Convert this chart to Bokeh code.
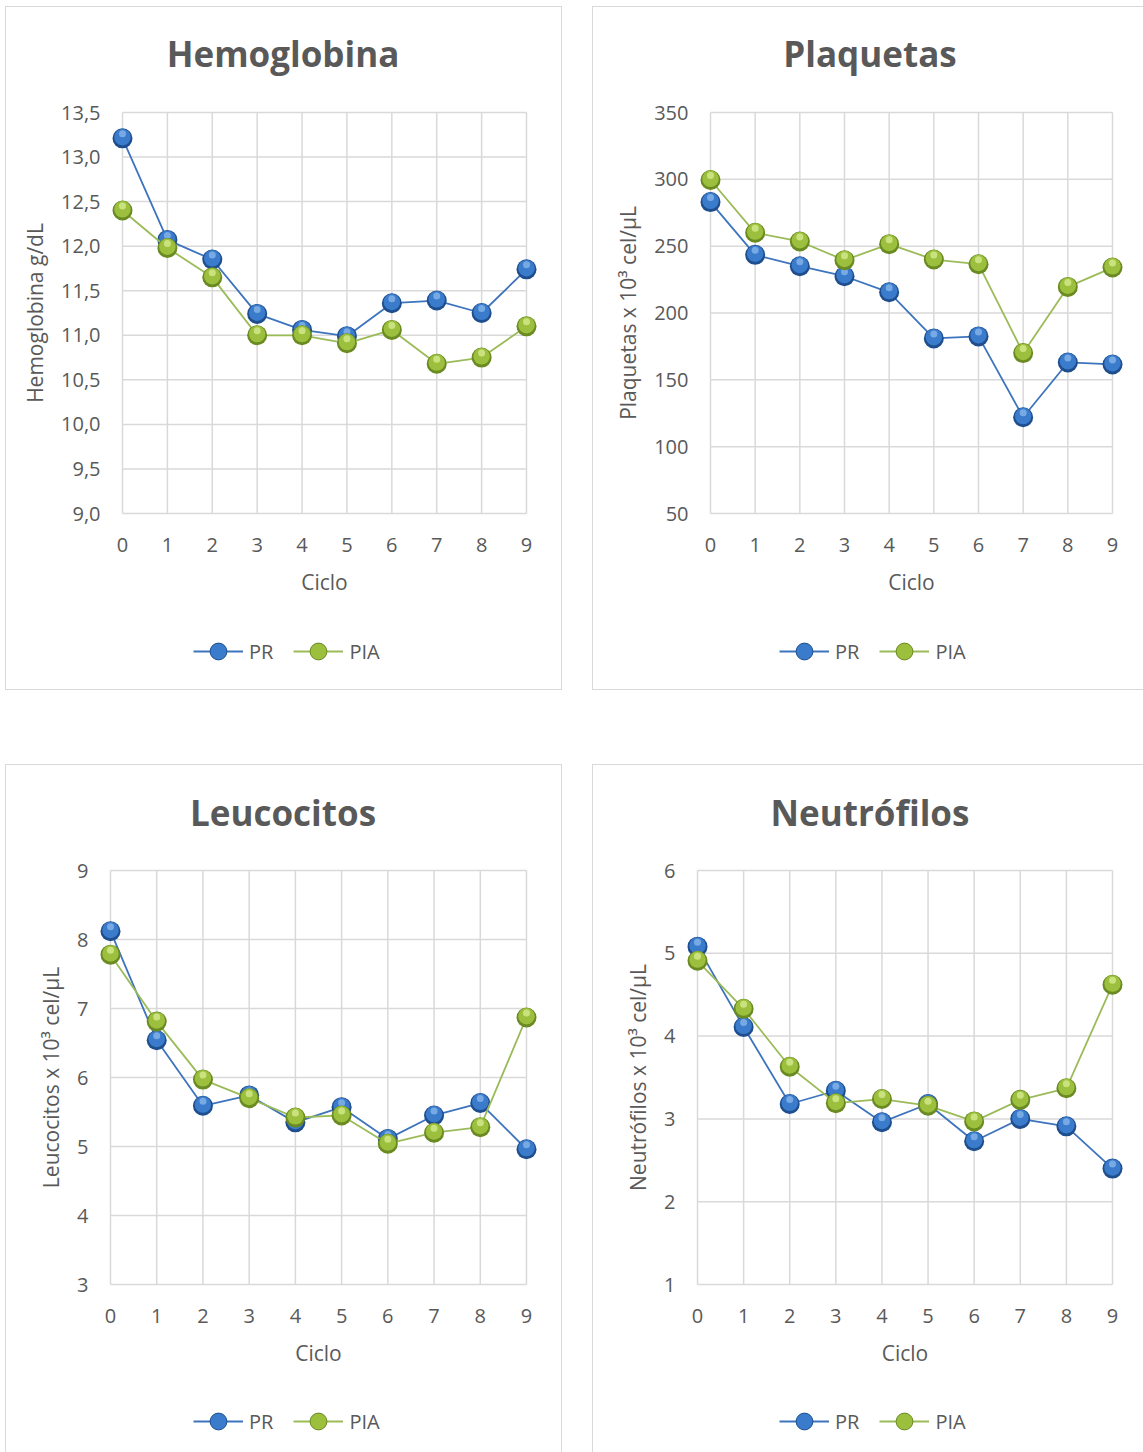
from bokeh.plotting import figure
from bokeh.models import (Range1d, FixedTicker, CustomJSTickFormatter, Div,
                          Legend, LegendItem, Spacer)
from bokeh.layouts import column, row
from bokeh.embed import file_html
from bokeh.resources import INLINE

# ---------------- data ----------------
ciclos = [0, 1, 2, 3, 4, 5, 6, 7, 8, 9]

hb_pr = [13.21, 12.07, 11.85, 11.24, 11.06, 10.99, 11.36, 11.39, 11.25, 11.74]
hb_pia = [12.40, 11.98, 11.65, 11.00, 11.00, 10.91, 11.06, 10.68, 10.75, 11.10]

plq_pr = [283, 243.5, 235, 227.5, 215.5, 181, 182.5, 122, 163, 161.5]
plq_pia = [299.5, 260, 253.5, 239.5, 251.5, 240, 236.5, 170, 219.5, 234]

leu_pr = [8.12, 6.54, 5.59, 5.74, 5.35, 5.57, 5.11, 5.45, 5.63, 4.96]
leu_pia = [7.78, 6.81, 5.97, 5.70, 5.42, 5.45, 5.04, 5.20, 5.28, 6.87]

neu_pr = [5.08, 4.11, 3.18, 3.34, 2.96, 3.18, 2.73, 3.00, 2.91, 2.40]
neu_pia = [4.91, 4.33, 3.63, 3.19, 3.24, 3.16, 2.97, 3.23, 3.37, 4.62]

hb_ticks = [9.0, 9.5, 10.0, 10.5, 11.0, 11.5, 12.0, 12.5, 13.0, 13.5]
plq_ticks = [50, 100, 150, 200, 250, 300, 350]
leu_ticks = [3, 4, 5, 6, 7, 8, 9]
neu_ticks = [1, 2, 3, 4, 5, 6]

series_names = ["PR", "PIA"]
titles = ["Hemoglobina", "Plaquetas", "Leucocitos", "Neutrófilos"]
ylabels = ["Hemoglobina g/dL", "Plaquetas x 10³ cel/µL",
           "Leucocitos x 10³ cel/µL", "Neutrófilos x 10³ cel/µL"]
xlabel = "Ciclo"

# ---------------- style ----------------
FONT = "Open Sans"
TXT = "#595959"
GRID = "#d9d9d9"
BORDER = "1px solid #d9d9d9"
BLUE = dict(line="#3d74bd", edge="#1f4e8e", mid="#3a7ccb", hi="#8cb8ec")
GREEN = dict(line="#9bbb59", edge="#6a8a22", mid="#9cc03e", hi="#d9ee94")
PAD = 14      # px of frame beyond the grid so markers are not clipped
TITLE_H = 80  # height of the title strip
LEG_H = 42    # legend glyph box height


def make_panel(box, grid, ticks, pr, pia, title, ylabel, title_c, legend_xy,
               fmt, right_border=True, bottom_border=True):
    bl, bt, bw, bh = box           # outer box on the page
    gl, gr, gt, gb = grid          # grid extents on the page
    cl, ct = bl + 1, bt + 1        # content (inside the 1px border)
    cw = bw - 1 - (1 if right_border else 0)
    ch = bh - 1 - (1 if bottom_border else 0)
    cb = ct + ch                   # content bottom
    ymin, ymax = ticks[0], ticks[-1]
    ux = (ciclos[-1] - ciclos[0]) / (gr - gl)
    uy = (ymax - ymin) / (gb - gt)

    # ---- title strip
    tcx, tcy = title_c
    shift = tcx - (cl + cw / 2)
    tdiv = Div(
        text=(f'<div style="width:{cw}px;text-align:center;position:relative;'
              f'left:{shift}px;line-height:{2 * (tcy - ct)}px;font-family:\'{FONT}\';'
              f'font-weight:bold;font-size:35px;color:{TXT};white-space:nowrap">'
              f'{title}</div>'),
        width=cw, height=TITLE_H, margin=0)

    # ---- main plot
    mt = ct + TITLE_H
    mb = gb + PAD + 90
    frame_left = gl - PAD
    p = figure(width=cw, height=mb - mt, output_backend="svg", toolbar_location=None,
               x_range=Range1d(ciclos[0] - PAD * ux, ciclos[-1] + PAD * ux),
               y_range=Range1d(ymin - PAD * uy, ymax + PAD * uy),
               min_border_left=frame_left - cl,
               min_border_right=(cl + cw) - (gr + PAD),
               min_border_top=gt - PAD - mt,
               min_border_bottom=mb - (gb + PAD), margin=0)
    p.outline_line_color = None
    p.xgrid.visible = False
    p.ygrid.visible = False
    p.background_fill_color = "white"
    p.border_fill_color = "white"

    p.segment(x0=ciclos, y0=[ymin] * len(ciclos), x1=ciclos, y1=[ymax] * len(ciclos),
              line_color=GRID, line_width=1.5)
    p.segment(x0=[ciclos[0]] * len(ticks), y0=ticks, x1=[ciclos[-1]] * len(ticks), y1=ticks,
              line_color=GRID, line_width=1.5)

    for ax in (p.xaxis[0], p.yaxis[0]):
        ax.axis_line_color = None
        ax.major_tick_line_color = None
        ax.minor_tick_line_color = None
        ax.major_tick_out = 0
        ax.major_tick_in = 0
        ax.minor_tick_out = 0
        ax.major_label_text_font = FONT
        ax.major_label_text_font_size = "20px"
        ax.major_label_text_color = TXT
        ax.axis_label_text_font = FONT
        ax.axis_label_text_font_size = "21px"
        ax.axis_label_text_color = TXT
        ax.axis_label_text_font_style = "normal"
    p.xaxis.ticker = FixedTicker(ticks=ciclos)
    p.yaxis.ticker = FixedTicker(ticks=ticks)
    p.yaxis.formatter = CustomJSTickFormatter(code=fmt)
    p.xaxis.axis_label = xlabel
    p.yaxis.axis_label = ylabel
    p.xaxis.major_label_standoff = 10
    p.yaxis.major_label_standoff = 8
    p.xaxis.axis_label_standoff = 13
    p.yaxis.axis_label_standoff = 9

    for vals, col in ((pr, BLUE), (pia, GREEN)):
        p.line(ciclos, vals, line_color=col["line"], line_width=1.8)
        p.scatter(ciclos, vals, size=20, fill_color=col["edge"], line_color=None)
        p.scatter(ciclos, [v + 1.2 * uy for v in vals], size=16.5,
                  fill_color=col["mid"], line_color=None)
        p.scatter(ciclos, [v + 4.5 * uy for v in vals], size=7,
                  fill_color=col["hi"], fill_alpha=0.75, line_color=None)

    # ---- legend strip (its frame is aligned with the main plot's frame)
    lh = cb - mb
    lg = figure(width=cw, height=lh, output_backend="svg", toolbar_location=None,
                x_range=Range1d(0, 1), y_range=Range1d(0, 1),
                x_axis_location=None, y_axis_location=None,
                min_border=0, min_border_left=0, min_border_right=0,
                min_border_top=0, min_border_bottom=0, margin=0)
    lg.grid.visible = False
    lg.outline_line_color = None
    items = []
    for name, col in ((series_names[0], BLUE), (series_names[1], GREEN)):
        ln = lg.line([float("nan")], [float("nan")], line_color=col["line"], line_width=1.8)
        mk = lg.scatter([float("nan")], [float("nan")], size=20, fill_color=col["mid"],
                        line_color=col["edge"], line_width=1)
        items.append(LegendItem(label=name, renderers=[ln, mk]))
    lx, lyc = legend_xy
    leg = Legend(items=items, orientation="horizontal",
                 location=(lx - frame_left, cb - lyc - LEG_H / 2),
                 glyph_width=50, glyph_height=LEG_H, label_standoff=6, spacing=20,
                 padding=0, margin=0, border_line_color=None,
                 background_fill_alpha=0,
                 label_text_font=FONT, label_text_font_size="20px",
                 label_text_color=TXT)
    lg.add_layout(leg, "center")

    styles = {
        "border-top": BORDER,
        "border-left": BORDER,
        "border-right": BORDER if right_border else "none",
        "border-bottom": BORDER if bottom_border else "none",
        "background-color": "white",
    }
    return column(tdiv, p, lg, styles=styles, spacing=0)


FMT1 = "return tick.toFixed(1).replace('.', ',');"
FMT0 = "return tick.toFixed(0);"

p1 = make_panel((5, 6, 557, 684), (122, 526, 112, 513), hb_ticks, hb_pr, hb_pia,
                titles[0], ylabels[0], (283, 54), (193, 651), FMT1)
p2 = make_panel((592, 6, 551, 684), (710, 1112, 112, 513), plq_ticks, plq_pr, plq_pia,
                titles[1], ylabels[1], (870, 54), (779, 651), FMT0, right_border=False)
p3 = make_panel((5, 764, 557, 688), (110, 526, 870, 1284), leu_ticks, leu_pr, leu_pia,
                titles[2], ylabels[2], (283, 813), (193, 1421), FMT0, bottom_border=False)
p4 = make_panel((592, 764, 551, 688), (697, 1112, 870, 1284), neu_ticks, neu_pr, neu_pia,
                titles[3], ylabels[3], (870, 813), (779, 1421), FMT0,
                right_border=False, bottom_border=False)

layout = column(
    Spacer(height=6),
    row(Spacer(width=5), p1, Spacer(width=30), p2),
    Spacer(height=74),
    row(Spacer(width=5), p3, Spacer(width=30), p4),
)

open("out.html", "w").write(file_html(layout, INLINE))
